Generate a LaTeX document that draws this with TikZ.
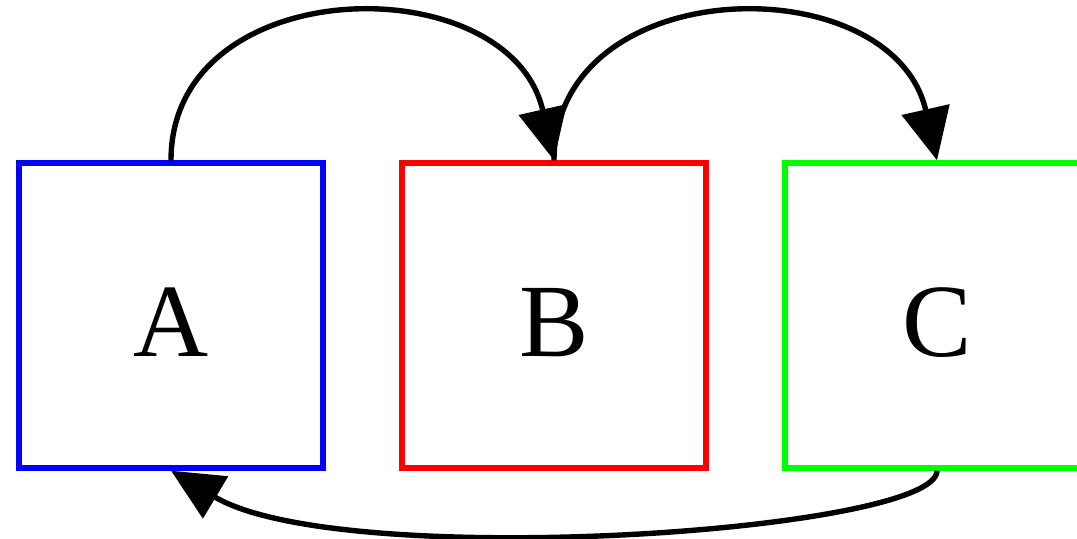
\documentclass[tikz,border=0pt]{standalone}
\usepackage{fontspec}
\setmainfont{Liberation Serif}
\usetikzlibrary{arrows.meta}
\tikzset{
  box/.style={draw, line width=2.7pt, minimum width=152pt, minimum height=152.5pt, inner sep=0pt,
    font=\fontsize{52}{60}\selectfont, text height=41.5pt, text depth=0pt},
  edge/.style={line width=2.7pt, -{Triangle[length=26pt, width=24pt]}}
}
\begin{document}
\begin{tikzpicture}[x=0.5pt,y=-0.5pt]
\useasboundingbox (0,0) rectangle (1077,539);
\clip (0,0) rectangle (1077,539);
\node[box, draw=blue] (A) at (171,315.5) {A};
\node[box, draw=red] (B) at (554,315.5) {B};
\node[box, draw={rgb,255:red,0;green,255;blue,0}] (C) at (937,315.5) {C};
\draw[edge] (A.north) .. controls (171,-30) and (510,-35) .. (B.north);
\draw[edge] (B.north) .. controls (554,-30) and (893,-35) .. (C.north);
\draw[edge] (C.south) .. controls (937,532) and (340,572) .. (A.south);
\end{tikzpicture}
\end{document}
